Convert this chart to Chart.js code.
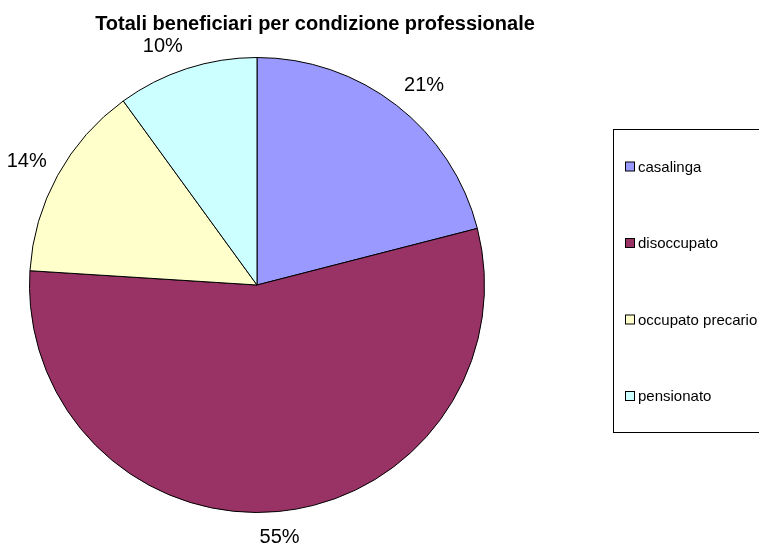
<!DOCTYPE html>
<html>
<head>
<meta charset="utf-8">
<script src="https://cdn.jsdelivr.net/npm/chart.js@4.4.1/dist/chart.umd.min.js"></script>
<style>
  body { margin: 0; background: #fff; }
  canvas { display: block; }
</style>
</head>
<body>
<canvas id="myChart" width="759" height="545"></canvas>
<script>
const chartTitle = 'Totali beneficiari per condizione professionale';
const categories = ['casalinga', 'disoccupato', 'occupato precario', 'pensionato'];
const values = [21, 55, 14, 10];
const sliceColors = ['#9999FF', '#993366', '#FFFFCC', '#CCFFFF'];

const total = values.reduce((a, b) => a + b, 0);

// percentage labels outside each slice, Excel style
const pctLabels = {
    id: 'pctLabels',
    afterDatasetsDraw(chart) {
        const ctx = chart.ctx;
        const arcs = chart.getDatasetMeta(0).data;
        ctx.save();
        ctx.font = '20px "Liberation Sans", Arial, sans-serif';
        ctx.fillStyle = '#000';
        ctx.textBaseline = 'alphabetic';
        arcs.forEach((arc, i) => {
            const p = arc.getProps(['x', 'y', 'startAngle', 'endAngle', 'outerRadius'], true);
            const text = Math.round(values[i] / total * 100) + '%';
            const h = ctx.measureText(text).actualBoundingBoxAscent;
            const mid = (p.startAngle + p.endAngle) / 2;
            const dx = Math.cos(mid), dy = Math.sin(mid);
            const ax = p.x + dx * (p.outerRadius + 12.5);
            const ay = p.y + dy * (p.outerRadius + 17.5);
            ctx.textAlign = dx > 0.3 ? 'left' : (dx < -0.3 ? 'right' : 'center');
            ctx.fillText(text, ax, dy < 0 ? ay : ay + h);
        });
        ctx.restore();
    }
};

// title and boxed legend
const decorations = {
    id: 'decorations',
    afterDraw(chart) {
        const ctx = chart.ctx;
        ctx.save();
        ctx.fillStyle = '#000';
        ctx.font = 'bold 20px "Liberation Sans", Arial, sans-serif';
        ctx.textAlign = 'center';
        ctx.textBaseline = 'alphabetic';
        ctx.fillText(chartTitle, 315, 30);

        ctx.strokeStyle = '#000';
        ctx.lineWidth = 1;
        ctx.strokeRect(613.5, 129.5, 200, 303);

        ctx.font = '15px "Liberation Sans", Arial, sans-serif';
        ctx.textAlign = 'left';
        ctx.textBaseline = 'middle';
        categories.forEach((name, i) => {
            const y = 166.5 + i * 76.5;
            ctx.fillStyle = sliceColors[i];
            ctx.fillRect(625.5, y - 4.5, 9, 9);
            ctx.strokeRect(625.5, y - 4.5, 9, 9);
            ctx.fillStyle = '#000';
            ctx.fillText(name, 638, y + 1);
        });
        ctx.restore();
    }
};

const ctx = document.getElementById('myChart').getContext('2d');
const myChart = new Chart(ctx, {
    type: 'pie',
    data: {
        labels: categories,
        datasets: [{
            data: values,
            backgroundColor: sliceColors,
            borderColor: '#000',
            borderWidth: 1
        }]
    },
    options: {
        responsive: false,
        animation: false,
        layout: {
            padding: { left: 29, right: 274, top: 57, bottom: 32 }
        },
        plugins: {
            legend: { display: false },
            tooltip: { enabled: false }
        }
    },
    plugins: [pctLabels, decorations]
});
</script>
</body>
</html>
